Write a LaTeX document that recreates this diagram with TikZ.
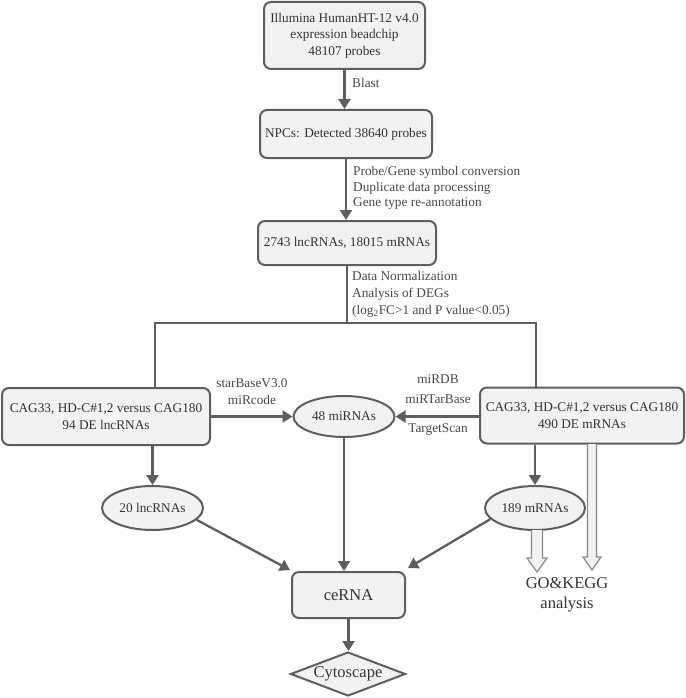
\documentclass[tikz,border=0pt]{standalone}
\usepackage{fontspec}
\setmainfont{Liberation Serif}
\usetikzlibrary{shapes.geometric,arrows.meta,calc}
\definecolor{lc}{HTML}{5E5E5E}
\definecolor{bf}{HTML}{F2F2F2}
\definecolor{tc}{HTML}{333333}
\definecolor{hc}{HTML}{8A8A8A}
\begin{document}
\begin{tikzpicture}[x=1pt,y=-1pt,
  every node/.style={text=tc, font=\fontsize{13.3}{16.5}\selectfont},
  box/.style={draw=lc, line width=2pt, fill=bf, rounded corners=7pt, align=center, inner sep=0pt},
  ell/.style={ellipse, draw=lc, line width=2pt, fill=bf, inner sep=0pt},
  conn/.style={draw=lc, line width=2.3pt},
  arr/.style={conn, -{Triangle[length=10pt,width=12pt]}},
  lab/.style={align=left, inner sep=0pt, text=tc!90},
  big/.style={font=\fontsize{16.5}{20}\selectfont},
  hollow/.style={draw=hc, fill=bf, line width=1.2pt, line join=miter},
]
\path[use as bounding box] (0,0) rectangle (685,698);

% nodes
\node[box, minimum width=161pt, minimum height=67pt] (b1) at (344.5,35.5) {Illumina HumanHT-12 v4.0\\expression beadchip\\48107 probes};
\node[box, minimum width=172pt, minimum height=48pt] (b2) at (346,134) {NPCs: Detected 38640 probes};
\node[box, minimum width=178pt, minimum height=44pt] (b3) at (347,243) {2743 lncRNAs, 18015 mRNAs};
\node[box, minimum width=208pt, minimum height=57pt] (b4) at (106,416.5) {CAG33, HD-C\#1,2 versus CAG180\\94 DE lncRNAs};
\node[box, minimum width=204pt, minimum height=56pt] (b5) at (582,415.5) {CAG33, HD-C\#1,2 versus CAG180\\490 DE mRNAs};
\node[ell, minimum width=101pt, minimum height=41pt] (mi) at (344,416.5) {48 miRNAs};
\node[ell, minimum width=101pt, minimum height=44pt] (lnc) at (152.5,508) {20 lncRNAs};
\node[ell, minimum width=100pt, minimum height=44pt] (mr) at (535,508) {189 mRNAs};
\node[box, big, minimum width=113pt, minimum height=46pt] (ce) at (348.5,595) {ceRNA};
\node[diamond, big, draw=lc, line width=2pt, fill=bf, minimum width=115pt, minimum height=44pt, inner sep=0pt, aspect=2.6] (cy) at (348,674) {Cytoscape};
\node[big, align=center, inner sep=0pt] (go) at (567,595) {GO\&KEGG\\analysis};

% labels
\node[lab, anchor=west] (lblast) at (352,83) {Blast};
\node[lab, anchor=west, font=\fontsize{13.3}{15.5}\selectfont] (lconv) at (353,188) {Probe/Gene symbol conversion\\Duplicate data processing\\Gene type re-annotation};
\node[lab, anchor=west, font=\fontsize{13.3}{17}\selectfont] (ldeg) at (352,294) {Data Normalization\\Analysis of DEGs\\(log\textsubscript{2}FC>1 and P value<0.05)};
\node[lab, align=center, font=\fontsize{13.3}{17}\selectfont] (lstar) at (252,391.5) {starBaseV3.0\\miRcode};
\node[lab, align=center] (lmirdb) at (438,379) {miRDB};
\node[lab, align=center] (lmirt) at (438,399) {miRTarBase};
\node[lab, align=center] (lts) at (438,430) {TargetScan};

% connectors
\draw[arr] (b1.south) -- (b1.south |- b2.north);
\draw[arr] (b2.south) -- (b2.south |- b3.north);
\coordinate (sp) at (346,323);
\coordinate (sl) at (155,323);
\coordinate (sr) at (536,323);
\draw[conn] (b3.south) -- (b3.south |- sp);
\draw[conn] (sl |- b4.north) -- (sl) -- (sr) -- (sr |- b5.north);
\draw[arr] (b4.east) -- (mi.west);
\draw[arr] (b5.west |- mi.east) -- (mi.east);
\draw[arr] (lnc.north |- b4.south) -- (lnc.north);
\draw[arr] (mr.north |- b5.south) -- (mr.north);
\draw[arr] (lnc.-15) -- ($(ce.north west)+(-1,-1)$);
\draw[arr] (mi.south) -- (mi.south |- ce.north);
\draw[arr] (mr.194) -- ($(ce.north east)+(2,-3)$);
\draw[arr] (ce.south) -- (ce.south |- cy.north);

% hollow arrows
\coordinate (ha) at (537,530);
\coordinate (hb) at (592,444);
\draw[hollow] ($(ha)+(-5.5,0)$) -- ($(ha)+(-5.5,28)$) -- ($(ha)+(-10,28)$) -- ($(ha)+(0,42)$) -- ($(ha)+(10,28)$) -- ($(ha)+(5.5,28)$) -- ($(ha)+(5.5,0)$);
\draw[hollow] ($(hb)+(-4.5,0)$) -- ($(hb)+(-4.5,113)$) -- ($(hb)+(-9,113)$) -- ($(hb)+(0,126)$) -- ($(hb)+(9,113)$) -- ($(hb)+(4.5,113)$) -- ($(hb)+(4.5,0)$);
\end{tikzpicture}
\end{document}
